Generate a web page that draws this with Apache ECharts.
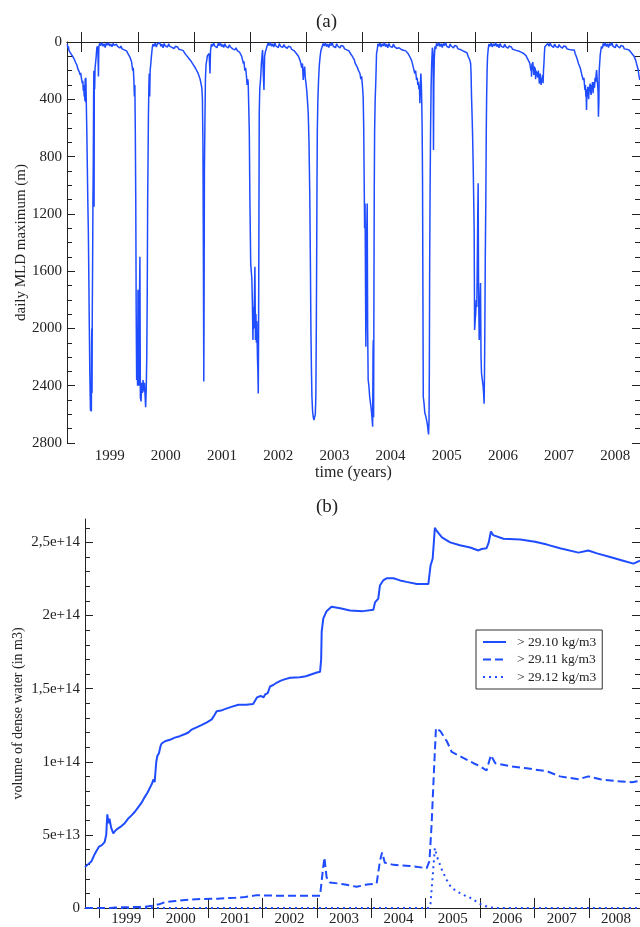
<!DOCTYPE html>
<html lang="en">

<head>
  <meta charset="UTF-8">
  <title>MLD and dense water volume</title>
  <script src="https://cdn.jsdelivr.net/npm/echarts@6.0.0/dist/echarts.min.js"></script>
  <style>
    html,
    body {
      padding: 0;
      margin: 0;
      background: #fff;
    }

    #chart {
      width: 640px;
      height: 927px;
    }
  </style>
</head>

<body>
  <div id="chart"></div>
  <script>
    // x axis: decimal years, ticks on Jan 1, labels mid-year
    const X_MIN = 1998.74
    const X_MAX = 2008.94
    const yearTicks = [1999, 2000, 2001, 2002, 2003, 2004, 2005, 2006, 2007, 2008]
    const yearLabelPos = [1999.5, 2000.5, 2001.5, 2002.5, 2003.5, 2004.5, 2005.5, 2006.5, 2007.5, 2008.5]

    const mldTicks = [0, 400, 800, 1200, 1600, 2000, 2400, 2800]
    const mldMinor = [100, 200, 300, 500, 600, 700, 900, 1000, 1100, 1300, 1400, 1500, 1700, 1800, 1900,
      2100, 2200, 2300, 2500, 2600, 2700]

    const VOL_MAX = 2.66e14
    const volTicks = [0, 5e13, 1e14, 1.5e14, 2e14, 2.5e14]
    const volTickLabels = ['0', '5e+13', '1e+14', '1,5e+14', '2e+14', '2,5e+14']
    const volMinor = [1e13, 2e13, 3e13, 4e13, 6e13, 7e13, 8e13, 9e13, 1.1e14, 1.2e14, 1.3e14, 1.4e14,
      1.6e14, 1.7e14, 1.8e14, 1.9e14, 2.1e14, 2.2e14, 2.3e14, 2.4e14, 2.6e14]

    // (a) daily MLD maximum, [year, depth m], one array per winter
    const mld1999 = [[1998.746,15],[1998.755,45],[1998.765,30],[1998.775,60],[1998.785,50],[1998.795,70],[1998.805,65],[1998.815,85],[1998.825,80],[1998.835,95],[1998.845,90],[1998.855,110],[1998.865,105],[1998.875,125],[1998.885,120],[1998.895,145],[1998.905,135],[1998.915,160],[1998.925,150],[1998.935,190],[1998.945,180],[1998.955,205],[1998.965,200],[1998.975,230],[1998.985,215],[1998.995,250],[1999.005,240],[1999.015,290],[1999.022,270],[1999.03,340],[1999.038,300],[1999.046,380],[1999.052,330],[1999.058,410],[1999.064,255],[1999.07,420],[1999.076,250],[1999.082,390],[1999.09,560],[1999.1,820],[1999.11,1100],[1999.12,1320],[1999.13,1700],[1999.138,2010],[1999.146,2300],[1999.152,2450],[1999.158,2575],[1999.166,2560],[1999.174,2580],[1999.178,2100],[1999.182,2000],[1999.186,2450],[1999.19,1890],[1999.196,1540],[1999.202,1100],[1999.208,850],[1999.214,380],[1999.218,200],[1999.222,1150],[1999.226,250],[1999.232,330],[1999.24,180],[1999.25,140],[1999.26,100],[1999.27,45],[1999.28,30],[1999.29,60],[1999.3,240],[1999.306,40],
      [1999.32,10],[1999.34,25],[1999.36,5],[1999.38,30],[1999.40,12],[1999.42,38],[1999.44,8],[1999.46,22],[1999.48,5],[1999.50,28],[1999.52,14],[1999.54,33],[1999.56,10],[1999.58,24],[1999.60,36],[1999.62,16],[1999.64,30],[1999.66,22],[1999.68,42],[1999.70,28],[1999.72,48],[1999.74,36],[1999.76,55],[1999.78,44],[1999.80,62]]
    const mld2000 = [[1999.82,78],[1999.84,70],[1999.86,105],[1999.875,95],[1999.89,140],[1999.9,130],[1999.91,200],[1999.92,180],[1999.93,260],[1999.94,380],[1999.948,300],[1999.956,620],[1999.964,1100],[1999.972,1900],[1999.98,2360],[1999.99,2080],[1999.996,2400],[2000.004,1730],[2000.012,2250],[2000.022,2400],[2000.03,1800],[2000.038,1500],[2000.046,2480],[2000.058,2510],[2000.07,2380],[2000.082,2450],[2000.094,2360],[2000.106,2440],[2000.118,2380],[2000.13,2470],[2000.14,2550],[2000.15,2430],[2000.16,2200],[2000.168,1780],[2000.176,1100],[2000.182,850],[2000.19,500],[2000.198,300],[2000.204,220],[2000.212,380],[2000.22,200],[2000.232,150],[2000.245,90],[2000.258,40],[2000.27,15],
      [2000.29,30],[2000.31,8],[2000.33,35],[2000.35,12],[2000.37,25],[2000.39,5],[2000.41,30],[2000.43,15],[2000.45,40],[2000.47,10],[2000.49,28],[2000.51,18],[2000.53,35],[2000.55,12],[2000.57,30],[2000.59,20],[2000.61,38],[2000.63,25],[2000.65,45],[2000.67,30],[2000.69,40],[2000.71,35],[2000.73,50],[2000.75,42],[2000.77,55],[2000.79,48]]
    const mld2001 = [[2000.81,60],[2000.83,75],[2000.85,70],[2000.87,95],[2000.89,90],[2000.91,115],[2000.93,110],[2000.95,135],[2000.97,130],[2000.99,160],[2001.01,150],[2001.03,185],[2001.05,175],[2001.07,215],[2001.09,205],[2001.11,260],[2001.125,250],[2001.14,320],[2001.15,390],[2001.16,720],[2001.168,1500],[2001.175,2370],[2001.18,1850],[2001.186,900],[2001.194,600],[2001.204,260],[2001.215,160],[2001.226,150],[2001.24,95],[2001.255,100],[2001.27,80],[2001.285,220],[2001.295,60],[2001.31,15],
      [2001.33,30],[2001.35,8],[2001.37,28],[2001.39,15],[2001.41,40],[2001.43,10],[2001.45,25],[2001.47,6],[2001.49,32],[2001.51,18],[2001.53,38],[2001.55,12],[2001.57,30],[2001.59,22],[2001.61,42],[2001.63,20],[2001.65,35],[2001.67,28],[2001.69,48],[2001.71,35],[2001.73,55],[2001.75,40],[2001.77,60],[2001.79,50],[2001.81,70]]
    const mld2002 = [[2001.83,65],[2001.85,100],[2001.865,90],[2001.88,150],[2001.89,135],[2001.905,200],[2001.92,180],[2001.935,240],[2001.945,300],[2001.955,260],[2001.965,280],[2001.975,450],[2001.985,614],[2001.995,1080],[2002.01,1544],[2002.02,1600],[2002.03,1650],[2002.04,1823],[2002.05,2081],[2002.058,1850],[2002.066,2000],[2002.075,1800],[2002.085,1569],[2002.095,2081],[2002.103,1900],[2002.112,2100],[2002.12,1950],[2002.13,2200],[2002.138,2300],[2002.145,2455],[2002.15,2050],[2002.156,1313],[2002.162,496],[2002.172,320],[2002.185,265],[2002.2,150],[2002.215,80],[2002.222,56],[2002.232,200],[2002.246,335],[2002.258,100],[2002.27,70],[2002.282,56],[2002.3,30],[2002.32,8],
      [2002.34,25],[2002.36,5],[2002.38,30],[2002.40,12],[2002.42,35],[2002.44,8],[2002.46,28],[2002.48,15],[2002.50,40],[2002.52,10],[2002.54,30],[2002.56,20],[2002.58,38],[2002.60,18],[2002.62,32],[2002.64,25],[2002.66,45],[2002.68,30],[2002.70,40],[2002.72,35],[2002.74,52],[2002.76,42],[2002.78,60],[2002.80,55]]
    const mld2003 = [[2002.82,79],[2002.84,70],[2002.86,100],[2002.875,90],[2002.89,130],[2002.905,120],[2002.92,180],[2002.932,150],[2002.945,265],[2002.958,200],[2002.97,172],[2002.982,250],[2002.995,290],[2003.01,350],[2003.022,420],[2003.034,496],[2003.048,700],[2003.062,1080],[2003.074,1600],[2003.082,2011],[2003.092,2300],[2003.1,2477],[2003.112,2580],[2003.123,2617],[2003.135,2640],[2003.148,2652],[2003.16,2600],[2003.17,2477],[2003.178,2000],[2003.184,1544],[2003.19,1000],[2003.196,614],[2003.206,400],[2003.218,265],[2003.232,160],[2003.246,100],[2003.26,60],[2003.28,35],[2003.3,10],
      [2003.32,28],[2003.34,6],[2003.36,32],[2003.38,14],[2003.40,38],[2003.42,10],[2003.44,25],[2003.46,5],[2003.48,30],[2003.50,18],[2003.52,40],[2003.54,12],[2003.56,28],[2003.58,20],[2003.60,42],[2003.62,25],[2003.64,35],[2003.66,30],[2003.68,48],[2003.70,38],[2003.72,55],[2003.74,45],[2003.76,62]]
    const mld2004 = [[2003.78,77],[2003.80,70],[2003.82,100],[2003.84,95],[2003.855,125],[2003.87,150],[2003.885,140],[2003.9,170],[2003.915,165],[2003.93,200],[2003.945,190],[2003.955,220],[2003.97,260],[2003.985,240],[2003.998,300],[2004.012,382],[2004.022,600],[2004.03,964],[2004.038,1300],[2004.046,1127],[2004.054,1700],[2004.06,2128],[2004.068,1750],[2004.076,1300],[2004.084,1127],[2004.092,2000],[2004.101,2360],[2004.114,2400],[2004.128,2477],[2004.142,2520],[2004.155,2560],[2004.165,2600],[2004.174,2650],[2004.181,2686],[2004.188,2150],[2004.193,2081],[2004.198,2620],[2004.204,1700],[2004.21,1000],[2004.216,614],[2004.226,400],[2004.238,265],[2004.25,80],[2004.262,56],[2004.275,12],
      [2004.29,30],[2004.31,8],[2004.33,35],[2004.35,12],[2004.37,28],[2004.39,5],[2004.41,32],[2004.43,15],[2004.45,40],[2004.47,10],[2004.49,30],[2004.51,20],[2004.53,38],[2004.55,15],[2004.57,32],[2004.59,25],[2004.61,45],[2004.63,32],[2004.65,40],[2004.67,36],[2004.69,52],[2004.71,42],[2004.73,58],[2004.75,50],[2004.77,62]]
    const mld2005 = [[2004.79,56],[2004.81,80],[2004.825,75],[2004.843,103],[2004.86,100],[2004.875,130],[2004.89,125],[2004.902,172],[2004.915,160],[2004.93,220],[2004.945,200],[2004.963,265],[2004.975,250],[2004.985,300],[2004.995,280],[2005.005,330],[2005.014,300],[2005.021,428],[2005.03,300],[2005.039,220],[2005.048,300],[2005.056,440],[2005.062,600],[2005.069,964],[2005.076,1800],[2005.082,2477],[2005.095,2520],[2005.11,2593],[2005.125,2610],[2005.141,2640],[2005.155,2670],[2005.166,2709],[2005.176,2740],[2005.184,2650],[2005.19,2300],[2005.196,1544],[2005.204,1000],[2005.212,614],[2005.222,300],[2005.232,149],[2005.244,40],[2005.252,60],[2005.258,120],[2005.264,754],[2005.27,300],[2005.278,120],[2005.29,30],[2005.305,50],[2005.318,10],
      [2005.34,28],[2005.36,6],[2005.38,32],[2005.40,12],[2005.42,38],[2005.44,10],[2005.46,25],[2005.48,5],[2005.50,30],[2005.52,18],[2005.54,40],[2005.56,14],[2005.58,28],[2005.60,22],[2005.62,42],[2005.64,25],[2005.66,35],[2005.68,30],[2005.70,48],[2005.72,38],[2005.74,52],[2005.76,45],[2005.78,60],[2005.80,55],[2005.82,68]]
    const mld2006 = [[2005.84,79],[2005.86,75],[2005.88,100],[2005.895,95],[2005.911,126],[2005.925,150],[2005.933,220],[2005.941,382],[2005.95,500],[2005.96,650],[2005.97,847],[2005.98,1100],[2005.988,1313],[2005.996,2011],[2006.005,1950],[2006.015,1900],[2006.025,1801],[2006.035,1850],[2006.045,1500],[2006.052,1200],[2006.059,987],[2006.066,1700],[2006.072,1900],[2006.078,2081],[2006.086,1950],[2006.094,1800],[2006.101,1683],[2006.11,2200],[2006.119,2314],[2006.13,2350],[2006.14,2380],[2006.148,2407],[2006.156,2450],[2006.165,2525],[2006.172,2300],[2006.178,2011],[2006.186,1500],[2006.196,1080],[2006.204,600],[2006.21,382],[2006.218,200],[2006.226,103],[2006.238,50],[2006.25,15],
      [2006.27,30],[2006.29,8],[2006.31,35],[2006.33,12],[2006.35,28],[2006.37,5],[2006.39,32],[2006.41,15],[2006.43,40],[2006.45,10],[2006.47,30],[2006.49,20],[2006.51,38],[2006.53,15],[2006.55,32],[2006.57,25],[2006.59,42],[2006.61,28],[2006.63,40],[2006.65,35],[2006.67,50],[2006.69,40],[2006.71,55],[2006.73,48],[2006.75,60],[2006.77,52],[2006.79,65],[2006.81,58],[2006.83,72],[2006.85,65],[2006.87,80],[2006.89,75],[2006.91,95]]
    const mld2007 = [[2006.925,103],[2006.94,90],[2006.955,130],[2006.97,125],[2006.979,149],[2006.99,140],[2006.998,200],[2007.005,180],[2007.009,242],[2007.016,150],[2007.024,170],[2007.032,140],[2007.04,190],[2007.05,230],[2007.058,170],[2007.066,210],[2007.074,180],[2007.082,260],[2007.09,200],[2007.098,196],[2007.106,240],[2007.114,210],[2007.122,250],[2007.13,200],[2007.14,240],[2007.148,290],[2007.157,265],[2007.165,220],[2007.172,260],[2007.18,300],[2007.19,250],[2007.2,270],[2007.208,230],[2007.215,288],[2007.222,200],[2007.23,150],[2007.238,80],[2007.246,33],[2007.26,20],
      [2007.28,35],[2007.30,10],[2007.32,30],[2007.34,8],[2007.36,25],[2007.38,12],[2007.40,38],[2007.42,15],[2007.44,30],[2007.46,20],[2007.48,40],[2007.50,18],[2007.52,32],[2007.54,25],[2007.56,42],[2007.58,28],[2007.60,36],[2007.62,32],[2007.64,48],[2007.66,38],[2007.68,52],[2007.70,45],[2007.72,55],[2007.74,50]]
    const mld2008 = [[2007.755,60],[2007.77,56],[2007.785,80],[2007.80,75],[2007.815,110],[2007.83,105],[2007.845,150],[2007.86,140],[2007.875,180],[2007.89,170],[2007.905,230],[2007.918,220],[2007.93,265],[2007.942,250],[2007.952,300],[2007.96,335],[2007.968,300],[2007.976,380],[2007.982,350],[2007.988,475],[2007.995,330],[2008.003,380],[2008.011,312],[2008.018,360],[2008.026,400],[2008.034,330],[2008.046,340],[2008.054,290],[2008.062,350],[2008.07,370],[2008.078,300],[2008.086,330],[2008.094,280],[2008.105,358],[2008.114,300],[2008.122,280],[2008.13,320],[2008.14,250],[2008.15,280],[2008.16,220],[2008.168,196],[2008.178,260],[2008.186,300],[2008.194,350],[2008.2,522],[2008.208,420],[2008.214,200],[2008.222,150],[2008.232,90],[2008.242,60],[2008.254,30],[2008.27,45],[2008.285,10],
      [2008.30,28],[2008.32,6],[2008.34,32],[2008.36,12],[2008.38,38],[2008.40,10],[2008.42,25],[2008.44,5],[2008.46,30],[2008.48,18],[2008.50,40],[2008.52,14],[2008.54,28],[2008.56,22],[2008.58,42],[2008.60,25],[2008.62,35],[2008.64,30],[2008.66,48],[2008.68,38],[2008.70,50],[2008.72,42],[2008.74,55],
      [2008.758,56],[2008.775,70],[2008.79,65],[2008.805,85],[2008.82,80],[2008.835,100],[2008.85,110],[2008.865,130],[2008.877,149],[2008.89,150],[2008.905,190],[2008.92,230],[2008.936,265]]

    // (b) volume of dense water, [year, volume in 1e14 m3]
    const vol2910 = [[1998.74,0.28],[1998.80,0.30],[1998.86,0.32],[1998.92,0.37],[1998.95,0.39],[1999.00,0.42],[1999.05,0.43],[1999.10,0.45],[1999.13,0.50],[1999.15,0.64],[1999.17,0.58],[1999.19,0.61],[1999.22,0.55],[1999.26,0.51],[1999.30,0.53],[1999.35,0.545],[1999.41,0.56],[1999.47,0.58],[1999.53,0.61],[1999.60,0.635],[1999.66,0.66],[1999.72,0.69],[1999.78,0.72],[1999.84,0.76],[1999.89,0.79],[1999.93,0.82],[1999.97,0.85],[2000.00,0.88],[2000.02,0.86],[2000.04,0.87],[2000.05,1.00],[2000.07,1.04],[2000.10,1.06],[2000.13,1.11],[2000.15,1.125],[2000.21,1.14],[2000.30,1.15],[2000.39,1.165],[2000.48,1.175],[2000.58,1.19],[2000.64,1.20],[2000.70,1.22],[2000.79,1.235],[2000.88,1.25],[2000.98,1.27],[2001.07,1.29],[2001.12,1.32],[2001.16,1.345],[2001.24,1.35],[2001.31,1.36],[2001.43,1.375],[2001.56,1.39],[2001.70,1.39],[2001.83,1.395],[2001.87,1.42],[2001.90,1.44],[2001.97,1.45],[2002.02,1.44],[2002.05,1.46],[2002.10,1.47],[2002.14,1.515],[2002.20,1.525],[2002.26,1.54],[2002.34,1.555],[2002.42,1.565],[2002.51,1.575],[2002.69,1.578],[2002.80,1.585],[2002.88,1.595],[2003.00,1.61],[2003.06,1.615],[2003.08,1.70],[2003.09,1.89],[2003.12,1.98],[2003.18,2.03],[2003.27,2.06],[2003.43,2.05],[2003.61,2.035],[2003.85,2.03],[2004.04,2.04],[2004.07,2.09],[2004.13,2.115],[2004.16,2.205],[2004.22,2.24],[2004.29,2.255],[2004.41,2.255],[2004.53,2.24],[2004.65,2.23],[2004.84,2.215],[2005.05,2.215],[2005.09,2.34],[2005.13,2.39],[2005.17,2.60],[2005.20,2.58],[2005.30,2.535],[2005.45,2.50],[2005.63,2.48],[2005.82,2.465],[2005.97,2.445],[2006.03,2.455],[2006.12,2.46],[2006.16,2.50],[2006.20,2.575],[2006.24,2.55],[2006.43,2.525],[2006.74,2.52],[2007.01,2.505],[2007.23,2.485],[2007.47,2.46],[2007.81,2.43],[2007.99,2.445],[2008.15,2.425],[2008.39,2.40],[2008.63,2.375],[2008.82,2.355],[2008.94,2.375]]
    const vol2911 = [[1998.74,0],[1999.2,0],[1999.3,0.004],[1999.6,0.006],[1999.85,0.008],[1999.97,0.015],[2000.1,0.025],[2000.21,0.04],[2000.4,0.048],[2000.58,0.055],[2000.88,0.062],[2001.18,0.064],[2001.5,0.07],[2001.68,0.075],[2001.9,0.088],[2002.1,0.085],[2002.42,0.084],[2003.06,0.084],[2003.11,0.254],[2003.14,0.345],[2003.18,0.21],[2003.24,0.175],[2003.49,0.163],[2003.73,0.145],[2003.92,0.16],[2004.10,0.168],[2004.16,0.32],[2004.20,0.38],[2004.25,0.31],[2004.41,0.295],[2004.71,0.288],[2005.02,0.272],[2005.07,0.32],[2005.11,0.57],[2005.15,0.91],[2005.19,1.23],[2005.27,1.21],[2005.39,1.14],[2005.48,1.067],[2005.69,1.027],[2005.88,0.99],[2006.00,0.97],[2006.12,0.94],[2006.20,1.045],[2006.28,0.99],[2006.55,0.97],[2006.86,0.955],[2007.23,0.935],[2007.47,0.90],[2007.81,0.88],[2007.99,0.90],[2008.21,0.88],[2008.51,0.867],[2008.79,0.86],[2008.94,0.87]]
    const vol2912 = [[1998.74,0],[2005.06,0],[2005.09,0.03],[2005.13,0.22],[2005.17,0.41],[2005.21,0.35],[2005.30,0.26],[2005.39,0.19],[2005.47,0.14],[2005.57,0.115],[2005.69,0.09],[2005.82,0.07],[2005.93,0.045],[2006.04,0.02],[2006.18,0.005],[2006.29,0],[2008.94,0]]

    const VOL_UNIT = 1e14
    const seriesNames = ['> 29.10 kg/m3', '> 29.11 kg/m3', '> 29.12 kg/m3']

    const BLUE = '#1f4cff'
    const INK = '#222'
    const FONT = 'Liberation Serif'

    const mld = [].concat(mld1999, mld2000, mld2001, mld2002, mld2003, mld2004, mld2005, mld2006, mld2007, mld2008)
    const toVol = arr => arr.map(p => [p[0], p[1] * VOL_UNIT])

    function xAxes(grid, bottomMargin, withName) {
      const base = {
        type: 'value', gridIndex: grid, min: X_MIN, max: X_MAX,
        axisLine: {show: true, lineStyle: {color: INK, width: 1}},
        axisTick: {show: true, inside: true, length: 10, customValues: yearTicks, lineStyle: {color: INK}},
        splitLine: {show: false}
      }
      return [
        Object.assign({}, base, {
          position: 'bottom',
          axisLabel: {
            customValues: yearLabelPos, formatter: v => String(Math.floor(v)),
            fontFamily: FONT, fontSize: 15, color: INK, margin: bottomMargin
          },
          name: withName ? 'time (years)' : '',
          nameLocation: 'middle', nameGap: 22, nameMoveOverlap: false,
          nameTextStyle: {fontFamily: FONT, fontSize: 16, color: INK}
        }),
        Object.assign({}, base, {position: 'top', axisLabel: {show: false}})
      ]
    }

    function yAxes(grid, max, inverse, ticks, minor, labels, name, nameGap, nameSize) {
      const base = {
        type: 'value', gridIndex: grid, min: 0, max: max, inverse: inverse,
        splitLine: {show: false}
      }
      const major = {
        axisLine: {show: true, lineStyle: {color: INK, width: 1}},
        axisTick: {show: true, inside: true, length: 8, customValues: ticks, lineStyle: {color: INK}}
      }
      const small = {
        axisLine: {show: false},
        axisTick: {show: true, inside: true, length: 5, customValues: minor, lineStyle: {color: INK}},
        axisLabel: {show: false}
      }
      return [
        Object.assign({}, base, major, {
          position: 'left',
          axisLabel: {
            customValues: ticks, margin: 5,
            formatter: v => labels[ticks.indexOf(v)] !== undefined ? labels[ticks.indexOf(v)] : String(v),
            fontFamily: FONT, fontSize: 15, color: INK
          },
          name: name, nameLocation: 'middle', nameGap: nameGap, nameMoveOverlap: false,
          nameTextStyle: {fontFamily: FONT, fontSize: nameSize, color: INK}
        }),
        Object.assign({}, base, small, {position: 'left'}),
        Object.assign({}, base, major, {position: 'right', axisLabel: {show: false}}),
        Object.assign({}, base, small, {position: 'right'})
      ]
    }

    const chart = echarts.init(document.getElementById('chart'), null, {renderer: 'canvas'})
    chart.setOption({
      animation: false,
      backgroundColor: '#fff',
      title: [
        {text: '(a)', left: 311, top: 8, textStyle: {fontFamily: FONT, fontWeight: 'normal', fontSize: 19, color: INK}},
        {text: '(b)', left: 311, top: 493, textStyle: {fontFamily: FONT, fontWeight: 'normal', fontSize: 19, color: INK}}
      ],
      grid: [
        {left: 67, top: 42, right: 0, height: 401},
        {left: 85, top: 519, right: 0, height: 390}
      ],
      xAxis: xAxes(0, 6, true).concat(xAxes(1, 4, false)),
      yAxis: yAxes(0, 2800, true, mldTicks, mldMinor, mldTicks.map(String), 'daily MLD maximum (m)', 38, 15)
        .concat(yAxes(1, VOL_MAX, false, volTicks, volMinor, volTickLabels, 'volume of dense water (in m3)', 60, 14)),
      legend: {
        orient: 'vertical', left: 476, top: 630,
        padding: [5, 6, 5, 6], itemGap: 3.5, itemWidth: 23, itemHeight: 14,
        borderColor: '#333', borderWidth: 1, backgroundColor: '#fff',
        selectedMode: false,
        itemStyle: {opacity: 0},
        textStyle: {fontFamily: FONT, fontSize: 13.5, color: INK, padding: [0, 0, 0, 6]},
        data: seriesNames
      },
      series: [
        {
          type: 'line', xAxisIndex: 0, yAxisIndex: 0, data: mld,
          symbol: 'none', lineStyle: {color: BLUE, width: 1.5}, z: 3
        },
        {
          name: seriesNames[0], type: 'line', xAxisIndex: 2, yAxisIndex: 4, data: toVol(vol2910),
          symbol: 'none', itemStyle: {color: BLUE}, lineStyle: {color: BLUE, width: 2}
        },
        {
          name: seriesNames[1], type: 'line', xAxisIndex: 2, yAxisIndex: 4, data: toVol(vol2911),
          symbol: 'none', itemStyle: {color: BLUE}, lineStyle: {color: BLUE, width: 2, type: [8, 4]}
        },
        {
          name: seriesNames[2], type: 'line', xAxisIndex: 2, yAxisIndex: 4, data: toVol(vol2912),
          symbol: 'none', itemStyle: {color: BLUE}, lineStyle: {color: BLUE, width: 2, type: [2, 4]}
        }
      ]
    })
  </script>
</body>

</html>
